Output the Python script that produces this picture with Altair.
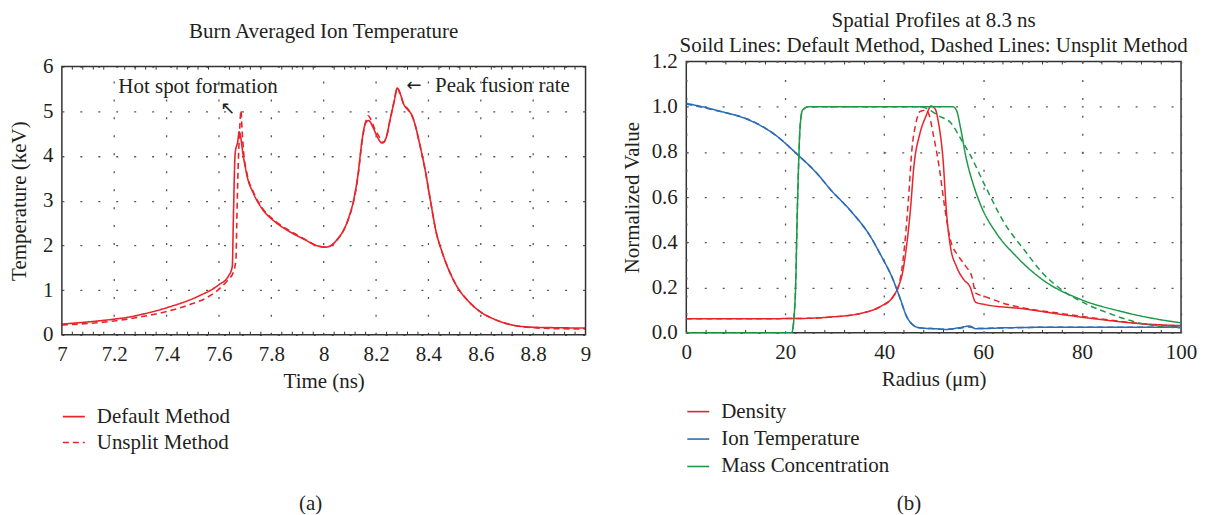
import altair as alt
import pandas as pd

RED = "#e8242b"
BLUE = "#2c6cb5"
GREEN = "#1d9a48"
FONT = "Liberation Serif"
TXT = "#231f20"
FS = 21

# ---------------- Panel (a): burn averaged ion temperature ----------------
t_default = [7.0, 7.199, 7.25, 7.3, 7.403, 7.52, 7.6, 7.636, 7.651, 7.655, 7.662, 7.672, 7.677,
             7.694, 7.709, 7.731, 7.767, 7.811, 7.869, 7.927, 7.971, 8.007, 8.029, 8.051, 8.073,
             8.095, 8.116, 8.131, 8.146, 8.16, 8.172, 8.189, 8.207, 8.223, 8.236, 8.255, 8.269,
             8.281, 8.291, 8.306, 8.32, 8.335, 8.349, 8.364, 8.386, 8.408, 8.429, 8.451, 8.48,
             8.509, 8.553, 8.597, 8.655, 8.728, 8.8, 8.873, 9.0]
T_default = [0.24, 0.35, 0.39, 0.45, 0.61, 0.86, 1.12, 1.31, 1.53, 2.6, 4.07, 4.33, 4.54,
             3.96, 3.51, 3.17, 2.8, 2.54, 2.31, 2.13, 2.0, 1.96, 2.0, 2.13, 2.31,
             2.61, 3.06, 3.58, 4.33, 4.74, 4.79, 4.63, 4.4, 4.29, 4.37, 4.85, 5.22,
             5.52, 5.41, 5.15, 5.04, 4.93, 4.7, 4.33, 3.73, 2.99, 2.31, 1.87, 1.42,
             1.08, 0.75, 0.52, 0.34, 0.21, 0.17, 0.16, 0.15]

t_unsplit = [7.0, 7.2, 7.3, 7.4, 7.5, 7.55, 7.6, 7.63, 7.655, 7.665, 7.668, 7.672, 7.676, 7.68,
             7.684, 7.688, 7.694, 7.709, 7.731, 7.767, 7.811, 7.869, 7.927, 7.971, 8.007, 8.029,
             8.051, 8.073, 8.095, 8.116, 8.131, 8.146, 8.16, 8.17, 8.18, 8.195, 8.21, 8.225,
             8.236, 8.255, 8.269, 8.281, 8.291, 8.306, 8.32, 8.335, 8.349, 8.364, 8.386, 8.408,
             8.429, 8.451, 8.48, 8.509, 8.553, 8.597, 8.655, 8.728, 8.8, 8.873, 9.0]
T_unsplit = [0.22, 0.31, 0.4, 0.52, 0.7, 0.82, 1.02, 1.2, 1.4, 1.7, 2.5, 3.5, 4.2, 4.7,
             5.02, 4.6, 4.1, 3.55, 3.2, 2.82, 2.56, 2.33, 2.14, 2.0, 1.96, 2.0,
             2.12, 2.3, 2.6, 3.03, 3.55, 4.3, 4.75, 4.9, 4.82, 4.6, 4.45, 4.3,
             4.36, 4.85, 5.22, 5.52, 5.41, 5.15, 5.06, 4.93, 4.7, 4.33, 3.73, 2.99,
             2.31, 1.87, 1.42, 1.08, 0.75, 0.52, 0.34, 0.21, 0.16, 0.14, 0.13]

methods = ["Default Method", "Unsplit Method"]

x_ticks_a = [7, 7.2, 7.4, 7.6, 7.8, 8, 8.2, 8.4, 8.6, 8.8, 9]
x_minor_a = [7.04, 7.08, 7.12, 7.16, 7.24, 7.28, 7.32, 7.36, 7.44, 7.48, 7.52, 7.56,
             7.64, 7.68, 7.72, 7.76, 7.84, 7.88, 7.92, 7.96, 8.04, 8.08, 8.12, 8.16,
             8.24, 8.28, 8.32, 8.36, 8.44, 8.48, 8.52, 8.56, 8.64, 8.68, 8.72, 8.76,
             8.84, 8.88, 8.92, 8.96]
y_ticks_a = [0, 1, 2, 3, 4, 5, 6]

ann_text = ["Hot spot formation", "Peak fusion rate"]
ann_x = [7.52, 8.425]
ann_y = [5.53, 5.56]
arrow_x = [7.632, 8.345]
arrow_y = [5.05, 5.56]

# ---------------- Panel (b): spatial profiles ----------------
r_temp = [0, 6, 13.8, 17.7, 22.4, 26.2, 29.3, 33.2, 37.1, 39.4, 41.8, 43.3, 44.5, 45.7, 47.2,
          50.3, 52.6, 55, 57.3, 58.5, 64.3, 75.9, 100]
v_temp = [1.015, 0.985, 0.93, 0.88, 0.79, 0.71, 0.63, 0.54, 0.43, 0.34, 0.235, 0.147, 0.074,
          0.037, 0.022, 0.018, 0.015, 0.022, 0.03, 0.018, 0.022, 0.025, 0.025]
v_temp_unsplit = [1.012, 0.983, 0.932, 0.88, 0.79, 0.71, 0.63, 0.54, 0.43, 0.34, 0.235, 0.147,
                  0.074, 0.037, 0.022, 0.018, 0.016, 0.02, 0.026, 0.02, 0.022, 0.025, 0.025]

r_mass = [0, 21.3, 22.0, 22.5, 23.0, 23.5, 24.7, 48.0, 53.8, 54.6, 55.4, 56.5, 58.1, 59.6,
          62.7, 66.6, 72, 79.8, 87.6, 93.8, 100]
v_mass = [0.0, 0.0, 0.147, 0.59, 0.91, 0.985, 1.0, 1.0, 1.0, 0.985, 0.91, 0.78, 0.65, 0.56,
          0.44, 0.34, 0.235, 0.147, 0.096, 0.066, 0.044]
r_mass_unsplit = [0, 21.3, 22.0, 22.5, 23.0, 23.5, 24.7, 47.5, 48.8, 51, 53.4, 55.7, 57.3,
                  60.4, 64.3, 68.2, 72, 75.9, 80.6, 85.2, 91.5, 100]
v_mass_unsplit = [0.0, 0.0, 0.147, 0.59, 0.91, 0.985, 1.0, 1.0, 0.99, 0.96, 0.93, 0.85, 0.79,
                  0.65, 0.485, 0.37, 0.265, 0.19, 0.13, 0.088, 0.044, 0.022]

r_dens = [0, 21.6, 29.3, 35.6, 39.4, 41.8, 42.9, 43.7, 44.5, 45.3, 46.0, 47.2, 48.4, 49.5,
          50.3, 51.0, 51.9, 52.6, 53.4, 54.6, 56.1, 57.3, 58.5, 60.4, 68.2, 75.9, 83.7, 91.5, 100]
v_dens = [0.062, 0.063, 0.07, 0.088, 0.118, 0.16, 0.206, 0.265, 0.38, 0.544, 0.735, 0.88,
          0.956, 1.003, 0.99, 0.926, 0.765, 0.53, 0.38, 0.294, 0.235, 0.206, 0.135, 0.125,
          0.106, 0.081, 0.059, 0.041, 0.032]
r_dens_unsplit = [0, 21.6, 29.3, 35.6, 39.4, 41.8, 42.9, 43.5, 44.1, 44.9, 45.6, 46.4, 47.2,
                  48.4, 49.1, 49.9, 51.1, 52.2, 53.4, 55.0, 56.5, 57.7, 58.5, 60.4, 65.0, 68.2,
                  75.9, 83.7, 91.5, 100]
v_dens_unsplit = [0.062, 0.063, 0.07, 0.088, 0.118, 0.16, 0.206, 0.27, 0.38, 0.59, 0.81, 0.926,
                  0.978, 0.985, 0.963, 0.88, 0.735, 0.56, 0.41, 0.34, 0.294, 0.25, 0.176, 0.16,
                  0.125, 0.11, 0.085, 0.062, 0.041, 0.026]

variables = ["Density", "Ion Temperature", "Mass Concentration"]
x_ticks_b = [0, 20, 40, 60, 80, 100]
x_minor_b = [4, 8, 12, 16, 24, 28, 32, 36, 44, 48, 52, 56, 64, 68, 72, 76, 84, 88, 92, 96]
y_ticks_b = [0.0, 0.2, 0.4, 0.6, 0.8, 1.0, 1.2]

# ---------------- build tables ----------------
df_a = pd.concat([
    pd.DataFrame({"t": t_default, "T": T_default, "method": methods[0], "i": range(len(t_default))}),
    pd.DataFrame({"t": t_unsplit, "T": T_unsplit, "method": methods[1], "i": range(len(t_unsplit))}),
])

rows = []
for var, r, v, r2, v2 in [
    (variables[0], r_dens, v_dens, r_dens_unsplit, v_dens_unsplit),
    (variables[1], r_temp, v_temp, r_temp, v_temp_unsplit),
    (variables[2], r_mass, v_mass, r_mass_unsplit, v_mass_unsplit),
]:
    rows.append(pd.DataFrame({"r": r, "v": v, "var": var, "method": methods[0], "i": range(len(r))}))
    rows.append(pd.DataFrame({"r": r2, "v": v2, "var": var, "method": methods[1], "i": range(len(r2))}))
df_b = pd.concat(rows)

GRID_DASH = [2, 16]
GRID_COLOR = "#555555"
FRAME = "#333333"
axis_common = dict(
    gridDash=GRID_DASH, gridColor=GRID_COLOR, gridWidth=1.3, gridOpacity=1,
    domain=False, ticks=False, labelFont=FONT, labelFontSize=FS, labelColor=TXT,
    titleFont=FONT, titleFontSize=FS, titleFontWeight="normal", titleColor=TXT,
    labelPadding=9, labelFlush=False,
)
legend_common = dict(
    title=None, orient="none", legendX=0, symbolType="stroke", symbolStrokeWidth=1.6,
    symbolSize=484, labelFont=FONT, labelFontSize=FS, labelColor=TXT, labelOffset=11,
    padding=0, labelLimit=400,
)

dash_scale = alt.Scale(domain=methods, range=[[1, 0], [6, 4]])

# left panel: view is 274 tall; the data frame occupies its lower 269 px
x_a = alt.X("t:Q", scale=alt.Scale(domain=[7, 9], nice=False, zero=False),
            axis=alt.Axis(values=x_ticks_a, format="~g", title="Time (ns)", titlePadding=6,
                          grid=False, **axis_common))
y_a = alt.Y("T:Q", scale=alt.Scale(domain=[0, 6], nice=False, range=[274, 5]),
            axis=alt.Axis(values=y_ticks_a, format="~g", title="Temperature (keV)", titlePadding=13,
                          grid=True, **axis_common))

lines_a = alt.Chart(df_a).mark_line(strokeWidth=1.6, color=RED, clip=True, interpolate="monotone").encode(
    x=x_a, y=y_a,
    strokeDash=alt.StrokeDash("method:N", scale=dash_scale, legend=alt.Legend(
        legendY=344, symbolStrokeColor=RED, rowPadding=4, **legend_common)),
    order="i:Q",
)

xgrid_a = alt.Chart(pd.DataFrame({"t": x_ticks_a[1:-1]})).mark_rule(
    strokeDash=GRID_DASH, color=GRID_COLOR, strokeWidth=1.3).encode(
    x="t:Q", y=alt.datum(0), y2=alt.datum(6))
minor_bot_a = alt.Chart(pd.DataFrame({"t": x_minor_a})).mark_rule(color=FRAME, strokeWidth=1).encode(
    x="t:Q", y=alt.datum(0), y2=alt.datum(0.07))
minor_top_a = alt.Chart(pd.DataFrame({"t": x_minor_a})).mark_rule(color=FRAME, strokeWidth=1).encode(
    x="t:Q", y=alt.datum(6), y2=alt.datum(5.93))
frame_a = alt.Chart(pd.DataFrame({"x": [7], "x2": [9], "y": [0], "y2": [6]})).mark_rect(
    filled=False, stroke=FRAME, strokeWidth=1.5).encode(x="x:Q", x2="x2:Q", y="y:Q", y2="y2:Q")

ann_df = pd.DataFrame({"x": ann_x, "y": ann_y, "text": ann_text})
ann1 = alt.Chart(ann_df.iloc[[0]]).mark_text(font=FONT, fontSize=FS, color=TXT, align="center", baseline="middle").encode(
    x="x:Q", y="y:Q", text="text:N")
ann2 = alt.Chart(ann_df.iloc[[1]]).mark_text(font=FONT, fontSize=FS, color=TXT, align="left", baseline="middle").encode(
    x="x:Q", y="y:Q", text="text:N")
arr1 = alt.Chart(pd.DataFrame({"x": [arrow_x[0]], "y": [arrow_y[0]]})).mark_text(
    text="←", font="DejaVu Sans", fontSize=18, color=TXT, angle=45, align="center", baseline="middle").encode(
    x="x:Q", y="y:Q")
arr2 = alt.Chart(pd.DataFrame({"x": [arrow_x[1]], "y": [arrow_y[1]]})).mark_text(
    text="←", font="DejaVu Sans", fontSize=18, color=TXT, align="center", baseline="middle").encode(
    x="x:Q", y="y:Q")
lab_a = alt.Chart(pd.DataFrame({"x": [7.95], "y": [-3.79]})).mark_text(
    text="(a)", font=FONT, fontSize=FS, color=TXT, clip=False, baseline="middle").encode(x="x:Q", y="y:Q")

left = alt.layer(xgrid_a, minor_bot_a, minor_top_a, lines_a, frame_a, ann1, ann2, arr1, arr2, lab_a).properties(
    width=525, height=274, view=alt.ViewBackground(stroke=None),
    title=alt.TitleParams("Burn Averaged Ion Temperature", font=FONT, fontSize=FS,
                          fontWeight="normal", color=TXT, offset=14),
)

color_scale = alt.Scale(domain=variables, range=[RED, BLUE, GREEN])
x_b = alt.X("r:Q", scale=alt.Scale(domain=[0, 100], nice=False),
            axis=alt.Axis(values=x_ticks_b, format="d", title="Radius (μm)", titlePadding=6,
                          grid=True, **axis_common))
y_b = alt.Y("v:Q", scale=alt.Scale(domain=[0, 1.2], nice=False),
            axis=alt.Axis(values=y_ticks_b, format=".1f", title="Normalized Value", titlePadding=9,
                          grid=True, **axis_common))
lines_b = alt.Chart(df_b).mark_line(strokeWidth=1.5, clip=True, interpolate="monotone").encode(
    x=x_b, y=y_b,
    color=alt.Color("var:N", scale=color_scale, legend=alt.Legend(
        legendY=339, rowPadding=5.5, **legend_common)),
    strokeDash=alt.StrokeDash("method:N", scale=dash_scale, legend=None),
    detail="method:N",
    order="i:Q",
)
minor_bot_b = alt.Chart(pd.DataFrame({"r": x_minor_b})).mark_rule(color=FRAME, strokeWidth=1).encode(
    x="r:Q", y=alt.datum(0), y2=alt.datum(0.013))
minor_top_b = alt.Chart(pd.DataFrame({"r": x_minor_b})).mark_rule(color=FRAME, strokeWidth=1).encode(
    x="r:Q", y=alt.datum(1.2), y2=alt.datum(1.187))
lab_b = alt.Chart(pd.DataFrame({"x": [45], "y": [-0.759]})).mark_text(
    text="(b)", font=FONT, fontSize=FS, color=TXT, clip=False, baseline="middle").encode(x="x:Q", y="y:Q")

right = alt.layer(minor_bot_b, minor_top_b, lines_b, lab_b).properties(
    width=496, height=272, view=alt.ViewBackground(stroke=FRAME, strokeWidth=1.5),
    title=alt.TitleParams(["Spatial Profiles at 8.3 ns",
                           "Soild Lines: Default Method, Dashed Lines: Unsplit Method"],
                          font=FONT, fontSize=FS, fontWeight="normal", color=TXT,
                          lineHeight=25, offset=-5),
)

chart = alt.hconcat(left, right, spacing=29).properties(padding=0).resolve_scale(
    strokeDash="independent", color="independent"
).resolve_legend(strokeDash="independent", color="independent")

chart.save("out.html", embed_options={"renderer": "svg", "actions": False})
